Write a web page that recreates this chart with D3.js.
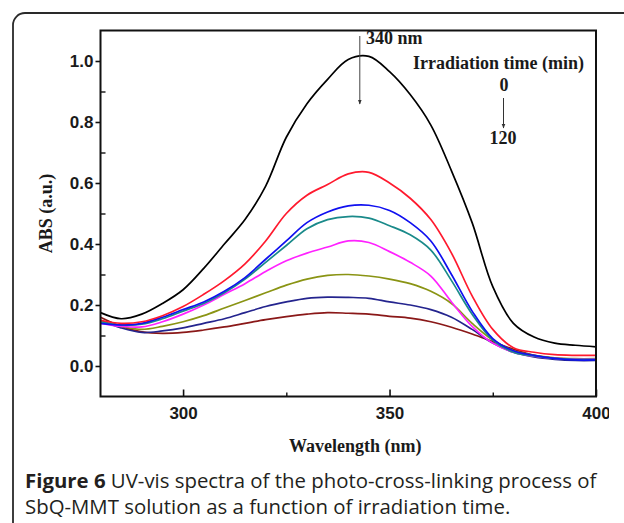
<!DOCTYPE html>
<html>
<head>
<meta charset="utf-8">
<script src="https://cdn.jsdelivr.net/npm/d3@7/dist/d3.min.js"></script>
<style>
  html, body { margin: 0; padding: 0; background: #ffffff; }
  svg { display: block; }
</style>
</head>
<body>
<svg id="chart" width="624" height="523"></svg>
<script>
// ---------------- DATA ----------------
const wavelengths = [280, 285, 290, 295, 300, 305, 310, 315, 320, 325, 330, 335, 340, 345, 350, 355, 360, 365, 370, 375, 380, 385, 390, 395, 400];

// Absorbance curves, from 0 min (top) to 120 min (bottom) of irradiation
const abs1 = [0.175, 0.155, 0.170, 0.205, 0.250, 0.320, 0.400, 0.480, 0.590, 0.750, 0.860, 0.940, 1.005, 1.015, 0.965, 0.890, 0.790, 0.640, 0.470, 0.260, 0.140, 0.095, 0.075, 0.068, 0.063];
const abs2 = [0.150, 0.140, 0.145, 0.165, 0.195, 0.235, 0.280, 0.335, 0.410, 0.500, 0.560, 0.595, 0.630, 0.635, 0.600, 0.550, 0.480, 0.370, 0.230, 0.120, 0.060, 0.045, 0.037, 0.035, 0.035];
const abs3 = [0.140, 0.135, 0.140, 0.160, 0.185, 0.210, 0.245, 0.290, 0.350, 0.410, 0.470, 0.505, 0.525, 0.527, 0.510, 0.470, 0.410, 0.300, 0.180, 0.090, 0.050, 0.035, 0.025, 0.020, 0.020];
const abs4 = [0.145, 0.135, 0.137, 0.155, 0.180, 0.205, 0.240, 0.285, 0.340, 0.395, 0.450, 0.480, 0.490, 0.485, 0.460, 0.430, 0.380, 0.280, 0.170, 0.085, 0.045, 0.033, 0.025, 0.022, 0.022];
const abs5 = [0.140, 0.130, 0.128, 0.145, 0.170, 0.200, 0.235, 0.270, 0.310, 0.345, 0.370, 0.390, 0.410, 0.405, 0.375, 0.340, 0.295, 0.210, 0.130, 0.075, 0.045, 0.032, 0.025, 0.023, 0.023];
const abs6 = [0.145, 0.130, 0.120, 0.130, 0.145, 0.165, 0.190, 0.215, 0.240, 0.265, 0.285, 0.297, 0.300, 0.295, 0.285, 0.270, 0.245, 0.205, 0.140, 0.085, 0.050, 0.035, 0.027, 0.024, 0.024];
const abs7 = [0.150, 0.125, 0.110, 0.115, 0.125, 0.140, 0.155, 0.175, 0.195, 0.210, 0.222, 0.226, 0.225, 0.222, 0.210, 0.200, 0.185, 0.160, 0.120, 0.075, 0.045, 0.030, 0.022, 0.018, 0.018];
const abs8 = [0.160, 0.130, 0.112, 0.107, 0.110, 0.118, 0.128, 0.140, 0.152, 0.162, 0.170, 0.175, 0.173, 0.170, 0.163, 0.157, 0.145, 0.127, 0.105, 0.080, 0.055, 0.035, 0.025, 0.020, 0.020];

const seriesColors = ["#000000", "#ff1a2e", "#1010f0", "#1a8a8a", "#ff22ff", "#8a9414", "#24248e", "#8a1818"];

const xMajorTicks = [300, 350, 400];
const xMinorTicks = [325, 375];
const yMajorTicks = [0.0, 0.2, 0.4, 0.6, 0.8, 1.0];
const yMinorTicks = [0.1, 0.3, 0.5, 0.7, 0.9];

const xTitle = "Wavelength (nm)";
const yTitle = "ABS (a.u.)";
const peakLabel = "340 nm";
const legendTitle = "Irradiation time (min)";
const timeStart = "0";
const timeEnd = "120";
const captionBold = "Figure 6";
const captionLine1 = " UV-vis spectra of the photo-cross-linking process of";
const captionLine2 = "SbQ-MMT solution as a function of irradiation time.";

// ---------------- LAYOUT ----------------
const svg = d3.select("#chart");
const plot = { left: 100.5, right: 596, top: 30.5, bottom: 396.5 };

const x = d3.scaleLinear().domain([280, 400]).range([plot.left, plot.right]);
const y = d3.scaleLinear().domain([-0.1, 1.1]).range([plot.bottom, plot.top]);

// outer rounded frame
svg.append("rect")
  .attr("x", 13).attr("y", 13)
  .attr("width", 700).attr("height", 600)
  .attr("rx", 12).attr("ry", 12)
  .attr("fill", "none")
  .attr("stroke", "#2a2a2a")
  .attr("stroke-width", 1.8);

const defs = svg.append("defs");
defs.append("clipPath").attr("id", "imgclip")
  .append("rect").attr("x", 0).attr("y", 0).attr("width", 609).attr("height", 523);
defs.append("clipPath").attr("id", "plotclip")
  .append("rect").attr("x", plot.left).attr("y", plot.top)
  .attr("width", plot.right - plot.left).attr("height", plot.bottom - plot.top);

const chart = svg.append("g").attr("clip-path", "url(#imgclip)");

// curves
const allSeries = [abs1, abs2, abs3, abs4, abs5, abs6, abs7, abs8];
const line = d3.line()
  .x((d, i) => x(wavelengths[i]))
  .y(d => y(d))
  .curve(d3.curveCatmullRom.alpha(0.5));

const curves = chart.append("g").attr("clip-path", "url(#plotclip)");
allSeries.slice().reverse().forEach((s, k) => {
  const idx = allSeries.length - 1 - k;
  curves.append("path")
    .datum(s)
    .attr("d", line)
    .attr("fill", "none")
    .attr("stroke", seriesColors[idx])
    .attr("stroke-width", 1.7)
    .attr("stroke-linejoin", "round");
});

// axes
const tickFont = "'Liberation Sans', Arial, sans-serif";
const serif = "'Liberation Serif', 'Times New Roman', serif";

const yAxis = d3.axisLeft(y).tickValues(yMajorTicks).tickFormat(d3.format(".1f"))
  .tickSize(5).tickSizeOuter(0).tickPadding(2);
const gy = chart.append("g").attr("transform", `translate(${plot.left},0)`).call(yAxis);
gy.select(".domain").remove();
gy.selectAll("line").attr("stroke", "#111").attr("stroke-width", 1.6);
gy.selectAll("text").attr("font-family", tickFont).attr("font-weight", "bold")
  .attr("font-size", 17).attr("fill", "#1a1a1a");

const yMinor = d3.axisLeft(y).tickValues(yMinorTicks).tickFormat("").tickSize(-5).tickSizeOuter(0);
const gym = chart.append("g").attr("transform", `translate(${plot.left},0)`).call(yMinor);
gym.select(".domain").remove();
gym.selectAll("line").attr("stroke", "#111").attr("stroke-width", 1.4);

const xAxis = d3.axisBottom(x).tickValues(xMajorTicks).tickFormat(d3.format("d"))
  .tickSize(-7).tickSizeOuter(0).tickPadding(10);
const gx = chart.append("g").attr("transform", `translate(0,${plot.bottom})`).call(xAxis);
gx.select(".domain").remove();
gx.selectAll("line").attr("stroke", "#111").attr("stroke-width", 1.6);
gx.selectAll("text").attr("font-family", tickFont).attr("font-weight", "bold")
  .attr("font-size", 17).attr("fill", "#1a1a1a");

const xMinor = d3.axisBottom(x).tickValues(xMinorTicks).tickFormat("").tickSize(-4).tickSizeOuter(0);
const gxm = chart.append("g").attr("transform", `translate(0,${plot.bottom})`).call(xMinor);
gxm.select(".domain").remove();
gxm.selectAll("line").attr("stroke", "#111").attr("stroke-width", 1.4);

// plot box
chart.append("rect")
  .attr("x", plot.left).attr("y", plot.top)
  .attr("width", plot.right - plot.left).attr("height", plot.bottom - plot.top)
  .attr("fill", "none").attr("stroke", "#111").attr("stroke-width", 2);

// axis titles
chart.append("text")
  .attr("x", (x(280) + x(400)) / 2 + 7).attr("y", 452)
  .attr("text-anchor", "middle")
  .attr("font-family", serif).attr("font-weight", "bold").attr("font-size", 18)
  .attr("fill", "#1a1a1a")
  .text(xTitle);

chart.append("text")
  .attr("transform", `translate(52,${y(0.5)}) rotate(-90)`)
  .attr("text-anchor", "middle")
  .attr("font-family", serif).attr("font-weight", "bold").attr("font-size", 18)
  .attr("fill", "#1a1a1a")
  .text(yTitle);

// annotations
defs.append("marker").attr("id", "ah")
  .attr("viewBox", "0 0 10 10").attr("refX", 9).attr("refY", 5)
  .attr("markerWidth", 5).attr("markerHeight", 6).attr("orient", "auto")
  .append("path").attr("d", "M0,1 L10,5 L0,9 Z").attr("fill", "#333");

chart.append("line")
  .attr("x1", x(342.8)).attr("x2", x(342.8))
  .attr("y1", 36).attr("y2", 104)
  .attr("stroke", "#444").attr("stroke-width", 1)
  .attr("marker-end", "url(#ah)");

chart.append("text")
  .attr("x", 366).attr("y", 44)
  .attr("font-family", serif).attr("font-weight", "bold").attr("font-size", 18)
  .attr("fill", "#1a1a1a")
  .text(peakLabel);

chart.append("text")
  .attr("x", 413).attr("y", 69)
  .attr("font-family", serif).attr("font-weight", "bold").attr("font-size", 18)
  .attr("fill", "#1a1a1a")
  .text(legendTitle);

chart.append("text")
  .attr("x", 504).attr("y", 91).attr("text-anchor", "middle")
  .attr("font-family", serif).attr("font-weight", "bold").attr("font-size", 18)
  .attr("fill", "#1a1a1a")
  .text(timeStart);

chart.append("line")
  .attr("x1", 503.5).attr("x2", 503.5)
  .attr("y1", 98).attr("y2", 128)
  .attr("stroke", "#333").attr("stroke-width", 1)
  .attr("marker-end", "url(#ah)");

chart.append("text")
  .attr("x", 503).attr("y", 144).attr("text-anchor", "middle")
  .attr("font-family", serif).attr("font-weight", "bold").attr("font-size", 18)
  .attr("fill", "#1a1a1a")
  .text(timeEnd);

// caption
const capFont = "'Open Sans', 'Noto Sans', sans-serif";
const cap1 = svg.append("text")
  .attr("x", 25).attr("y", 488)
  .attr("font-family", capFont).attr("font-size", 20).attr("fill", "#231f20");
cap1.append("tspan").attr("font-weight", "bold").text(captionBold);
cap1.append("tspan").text(captionLine1);
const cap2 = svg.append("text")
  .attr("x", 25).attr("y", 514)
  .attr("font-family", capFont).attr("font-size", 20).attr("fill", "#231f20")
  .text(captionLine2);

// fit caption width to the reference line length
const target = 572;
const w1 = cap1.node().getComputedTextLength();
const fs = 20 * target / w1;
cap1.attr("font-size", fs);
cap2.attr("font-size", fs);
</script>
</body>
</html>
